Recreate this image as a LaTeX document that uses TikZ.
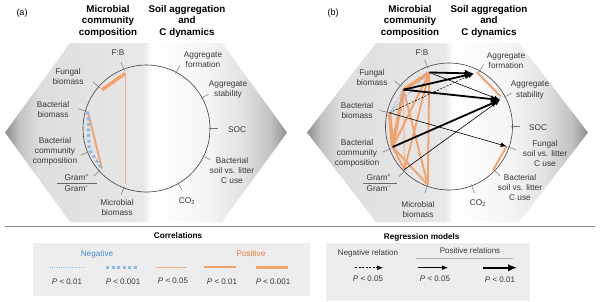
\documentclass[tikz,border=0pt]{standalone}
\usepackage{fontspec}
\setmainfont{Liberation Sans}
\usetikzlibrary{arrows.meta,calc}
\definecolor{orA}{RGB}{244,160,105}
\definecolor{orL}{RGB}{246,178,135}
\definecolor{orT}{RGB}{230,125,60}
\definecolor{blL}{RGB}{140,185,230}
\definecolor{blT}{RGB}{70,140,210}
\definecolor{txt}{RGB}{55,55,55}
\pgfdeclarehorizontalshading{hexshade}{100bp}{color(0bp)=(black!45); color(25bp)=(black!45); color(27.5bp)=(black!24); color(31bp)=(black!13); color(49.5bp)=(black!9); color(51bp)=(white); color(61bp)=(black!4); color(67bp)=(black!11); color(72bp)=(black!24); color(75bp)=(black!44); color(100bp)=(black!44)}
\tikzset{
  lab/.style={font=\fontsize{8.3}{10}\selectfont, text=txt, align=center, inner sep=0pt},
  ttl/.style={font=\fontsize{9.8}{11.5}\selectfont\bfseries, align=center, inner sep=0pt},
  leg/.style={font=\fontsize{8}{10}\selectfont, text=txt, align=center, inner sep=0pt},
  legh/.style={font=\fontsize{8.2}{10}\selectfont\bfseries, align=center, inner sep=0pt},
  ring/.style={draw=black!75, line width=0.6pt},
  tick/.style={draw=black!55, line width=0.5pt},
  pos1/.style={draw=orL, line width=1pt},
  pos2/.style={draw=orA, line width=1.8pt},
  pos3/.style={draw=orA, line width=3.4pt},
  neg1/.style={draw=blL, line width=1.1pt, dash pattern=on 1pt off 1.2pt},
  neg2/.style={draw=blL, line width=3pt, dash pattern=on 3pt off 2.6pt},
  arrthin/.style={draw=black, line width=0.6pt, -{Latex[length=6pt,width=4.5pt]}},
  arrthick/.style={draw=black, line width=1.8pt, -{Latex[length=9pt,width=7.5pt]}},
  arrneg/.style={arrthin, dash pattern=on 2pt off 1.5pt},
}
\begin{document}
\begin{tikzpicture}[x=1pt,y=1pt]
\useasboundingbox (0,0) rectangle (600,-301);
\fill[white] (0,0) rectangle (600,-301);

% ---------------- hexagons ----------------
\shade[shading=hexshade] (5,-132.5) -- (70,-43) -- (222,-43) -- (287,-132.5) -- (222,-222) -- (70,-222) -- cycle;
\shade[shading=hexshade] (307,-132.5) -- (376,-43) -- (519,-43) -- (588,-132.5) -- (519,-222) -- (376,-222) -- cycle;

% ---------------- panel (a) ----------------
\node[font=\fontsize{9}{10}\selectfont, inner sep=0pt] (pa) at (22,-13) {(a)};
\node[ttl] (aT1) at (108,-21) {Microbial\\community\\composition};
\node[ttl] (aT2) at (187,-21) {Soil aggregation\\and\\C dynamics};

\begin{scope}[shift={(146.5,-128.5)}]
  \draw[ring] (0,0) circle (63.5);
  \foreach \a in {111,62,29,0,-26,-60,-111,-138,-158,164,139}
    \draw[tick] (\a:62) -- (\a:71);
  \coordinate (aFB) at (111:59);
  \coordinate (aFBio) at (139:59);
  \coordinate (aBB) at (164:61);
  \coordinate (aBCC) at (-160:61);
  \coordinate (aGram) at (-138:60);
  \coordinate (aMB) at (-111:59);
\end{scope}

\node[lab] (aLFB) at (118,-53) {F:B};
\node[lab] (aLAF) at (203,-60) {Aggregate\\formation};
\node[lab] (aLAS) at (228,-89.5) {Aggregate\\stability};
\node[lab] (aLSOC) at (237,-130) {SOC};
\node[lab] (aLBSL) at (232,-171) {Bacterial\\soil vs. litter\\C use};
\node[lab] (aLCO) at (187,-201) {CO\textsubscript{2}};
\node[lab] (aLMB) at (117,-208) {Microbial\\biomass};
\node[lab] (aLG1) at (77,-177.5) {Gram\textsuperscript{+}};
\node[lab] (aLG2) at (77,-188.5) {Gram\textsuperscript{−}};
\coordinate (aGl) at (57,-183);
\coordinate (aGr) at (97,-183);
\draw[black!60, line width=0.5pt] (aGl) -- (aGr);
\node[lab] (aLBCC) at (55,-151) {Bacterial\\community\\composition};
\node[lab] (aLBB) at (53,-110) {Bacterial\\biomass};
\node[lab] (aLFBio) at (68,-77) {Fungal\\biomass};

\draw[pos1] (aFB) -- (aMB);
\draw[pos3] (aFB) -- (aFBio);
\draw[pos2] (aBB) -- (aGram);
\draw[neg2] (aBB) -- (aBCC) -- (aGram);

% ---------------- panel (b) ----------------
\node[font=\fontsize{9}{10}\selectfont, inner sep=0pt] (pb) at (333,-13) {(b)};
\node[ttl] (bT1) at (410,-21) {Microbial\\community\\composition};
\node[ttl] (bT2) at (489,-21) {Soil aggregation\\and\\C dynamics};

\begin{scope}[shift={(449,-126.5)}]
  \draw[ring] (0,0) circle (63.5);
  \foreach \a in {110,61,28,0,-19,-44,-69,-110,-135,-159,167,140}
    \draw[tick] (\a:62) -- (\a:71);
  \coordinate (bFB) at (110:57.5);
  \coordinate (bFBio) at (141:58.5);
  \coordinate (bBB) at (167:61);
  \coordinate (bBCC) at (-160:60);
  \coordinate (bGram) at (-136:62);
  \coordinate (bMB) at (-110:62);
  \coordinate (bAF) at (65:58.5);
  \coordinate (bAS) at (27.5:57.5);
  \coordinate (bFSL) at (-19:61);
  \coordinate (bBSL) at (-45:62);
  \coordinate (bAFo) at (63:61);
  \coordinate (bASo) at (30:60);
\end{scope}

\node[lab] (bLFB) at (422,-53) {F:B};
\node[lab] (bLAF) at (506,-61) {Aggregate\\formation};
\node[lab] (bLAS) at (530,-90) {Aggregate\\stability};
\node[lab] (bLSOC) at (538,-128) {SOC};
\node[lab] (bLFSL) at (545,-154) {Fungal\\soil vs. litter\\C use};
\node[lab] (bLBSL) at (520,-188) {Bacterial\\soil vs. litter\\C use};
\node[lab] (bLCO) at (478,-203) {CO\textsubscript{2}};
\node[lab] (bLMB) at (418,-210) {Microbial\\biomass};
\node[lab] (bLG1) at (379,-177.5) {Gram\textsuperscript{+}};
\node[lab] (bLG2) at (379,-188.5) {Gram\textsuperscript{−}};
\coordinate (bGl) at (363,-183);
\coordinate (bGr) at (397,-183);
\draw[black!60, line width=0.5pt] (bGl) -- (bGr);
\node[lab] (bLBCC) at (357,-153) {Bacterial\\community\\composition};
\node[lab] (bLBB) at (357,-111) {Bacterial\\biomass};
\node[lab] (bLFBio) at (372,-78) {Fungal\\biomass};

% correlations (b)
\draw[pos1] (bFBio) -- (bGram);
\draw[pos2] (bFB) -- (bMB);
\draw[pos2] (bFBio) -- (bMB);
\draw[pos2] (bBCC) -- (bMB);
\draw[pos2] (bFB) -- (bGram);
\draw[pos2] (bBCC) -- (bGram);
\draw[pos3] (bFB) -- (bFBio);
\draw[pos2] (bFB) -- (bBCC);
\draw[pos3] (bFBio) -- (bBCC);
\draw[pos3] (bBB) -- (bBCC);
\draw[pos2] (bAFo) -- (bASo);
\draw[pos2] (bFSL) -- (bBSL);
\draw[neg1] (bBB) -- (bFBio);
\draw[neg1] (bBB) -- (bFB);

% regression arrows (b)
\draw[arrthin] (bGram) -- (bAS);
\draw[arrthin] (bFB) -- (bAS);
\draw[arrthin] (bBB) -- (bFSL);
\draw[arrneg] (bBB) -- (bAF);
\draw[arrthick] (bFB) -- (bAF);
\draw[arrthick] (bFBio) -- (bAF);
\draw[arrthick] (bFBio) -- (bAS);
\draw[arrthick] (bBCC) -- (bAS);

% ---------------- legend ----------------
\coordinate (sepL) at (5,-226);
\coordinate (sepR) at (595,-226);
\draw[black!45, line width=0.8pt] (sepL) -- (sepR);

\fill[black!7] (33,-243) rectangle (310,-296);
\fill[black!7] (326,-243) rectangle (530,-301);

\node[legh] (corrH) at (178,-235.5) {Correlations};
\node[legh] (regH) at (421.7,-237) {Regression models};
\node[leg, text=blT, font=\fontsize{8.2}{10}\selectfont] (negH) at (97,-254) {Negative};
\node[leg, text=orT, font=\fontsize{8.2}{10}\selectfont] (posH) at (251,-254) {Positive};

\draw[neg1] (50,-267.3) -- (85,-267.3);
\draw[neg2] (106,-267.3) -- (139,-267.3);
\draw[pos1] (156,-267.3) -- (187,-267.3);
\draw[pos2] (204,-267.3) -- (236,-267.3);
\draw[pos3] (256,-267.3) -- (288,-267.3);

\node[leg] (c1) at (67,-281.7) {\textit{P} < 0.01};
\node[leg] (c2) at (123,-281.7) {\textit{P} < 0.001};
\node[leg] (c3) at (173,-281) {\textit{P} < 0.05};
\node[leg] (c4) at (222,-281.7) {\textit{P} < 0.01};
\node[leg] (c5) at (273,-281.7) {\textit{P} < 0.001};

\node[leg] (rNeg) at (368,-253) {Negative relation};
\node[leg] (rPos) at (470,-250.7) {Positive relations};
\draw[black!30, line width=0.8pt] (416,-258.3) -- (513,-258.3);

\draw[arrneg] (355,-267.7) -- (383,-267.7);
\draw[arrthin] (418,-267.7) -- (448,-267.7);
\draw[arrthick] (483,-267.7) -- (517,-267.7);

\node[leg] (r1) at (368,-278.3) {\textit{P} < 0.05};
\node[leg] (r2) at (435,-278.3) {\textit{P} < 0.05};
\node[leg] (r3) at (500,-280) {\textit{P} < 0.01};
\end{tikzpicture}
\end{document}
